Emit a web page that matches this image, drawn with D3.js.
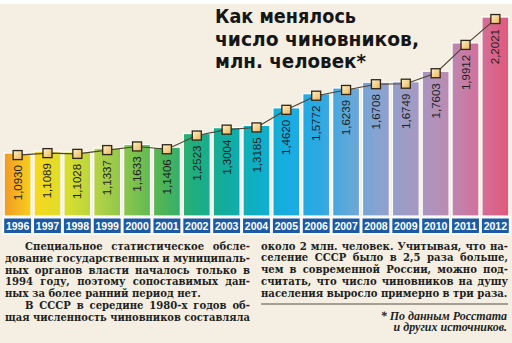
<!DOCTYPE html>
<html><head><meta charset="utf-8">
<script src="https://cdn.jsdelivr.net/npm/d3@7"></script>
<style>body{margin:0;background:#fff}svg{display:block}</style>
</head><body><svg id="c" width="512" height="343"></svg>
<script>
const years = ["1996","1997","1998","1999","2000","2001","2002","2003","2004","2005","2006","2007","2008","2009","2010","2011","2012"];
const values = [1.0930,1.1089,1.1028,1.1337,1.1633,1.1406,1.2523,1.3004,1.3185,1.4620,1.5772,1.6239,1.6708,1.6749,1.7603,1.9912,2.2021];
const barColors = ["#f39a22","#f7d81e","#d8de2e","#b0d246","#82c34e","#4fb456","#1fae7e","#12ac9e","#0eafc4","#18ade2","#2ea8e2","#64a8da","#8da2ce","#a39ac3","#b98cb4","#d0729c","#e15a7c"];
const titleLines = ["Как менялось","число чиновников,","млн. человек*"];
const leftText = [
 {t:"Специальное статистическое обсле-", ind:true, end:250},
 {t:"дование государственных и муниципаль-", end:250},
 {t:"ных органов власти началось только в", end:250},
 {t:"1994 году, поэтому сопоставимых дан-", end:250},
 {t:"ных за более ранний период нет.", end:null},
 {t:"В СССР в середине 1980-х годов об-", ind:true, end:250},
 {t:"щая численность чиновников составляла", end:250}
];
const rightText = [
 {t:"около 2 млн. человек. Учитывая, что на-", end:508},
 {t:"селение СССР было в 2,5 раза больше,", end:508},
 {t:"чем в современной России, можно под-", end:508},
 {t:"считать, что число чиновников на душу", end:508},
 {t:"населения выросло примерно в три раза.", end:null}
];
const footnote = ["* По данным Росстата","и других источников."];

const svg = d3.select("#c");
svg.append("rect").attr("width",512).attr("height",343).attr("fill","#f4efe2");
svg.append("rect").attr("width",512).attr("height",4).attr("fill","#ffffff");

const x = d3.scaleBand().domain(years).range([3,510]).paddingInner(0.1).paddingOuter(0.04);
const y = d3.scaleLinear().domain([0.58,2.2]).range([216,17.3]);
const fmt = v => d3.format(".4f")(v).replace(".",",");

const defs = svg.append("defs");
const g = defs.append("linearGradient").attr("id","hg").attr("gradientUnits","userSpaceOnUse")
  .attr("x1",x(years[0])).attr("x2",x(years[years.length-1])+x.bandwidth()).attr("y1",0).attr("y2",0);
barColors.forEach((c,i)=>g.append("stop").attr("offset",(i/(barColors.length-1))).attr("stop-color",c));
const mg = defs.append("linearGradient").attr("id","mg").attr("x1",0).attr("y1",0).attr("x2",1).attr("y2",1);
mg.append("stop").attr("offset",0).attr("stop-color","#fff3c4");
mg.append("stop").attr("offset",1).attr("stop-color","#e9b45a");

const data = years.map((yr,i)=>({yr, v:values[i]}));

// bars
svg.append("g").selectAll("rect").data(data).join("rect")
  .attr("x",d=>x(d.yr)).attr("y",d=>y(d.v))
  .attr("width",x.bandwidth()).attr("height",d=>216-y(d.v))
  .attr("fill","url(#hg)").attr("stroke","#ffffff").attr("stroke-width",1.2);

// value labels
svg.append("g").selectAll("text").data(data).join("text")
  .attr("transform",d=>`translate(${x(d.yr)+x.bandwidth()/2+4},${y(d.v)+12}) rotate(-90)`)
  .attr("text-anchor","end")
  .attr("font-family","'Liberation Sans Narrow','Arial Narrow','Liberation Sans',Arial,sans-serif")
  .attr("font-size",11.5).attr("fill","#1e1e1e")
  .text(d=>fmt(d.v));

// year band
svg.append("rect").attr("x",2).attr("y",216).attr("width",509).attr("height",19).attr("fill","#fbfaf6");
const yg = svg.append("g");
yg.selectAll("rect").data(years).join("rect")
  .attr("x",d=>x(d)).attr("y",218.5).attr("width",x.bandwidth()).attr("height",14.5)
  .attr("fill","#1d5aa6");
yg.selectAll("text").data(years).join("text")
  .attr("x",d=>x(d)+x.bandwidth()/2).attr("y",229.8).attr("text-anchor","middle")
  .attr("font-family","'Liberation Sans',Arial,sans-serif").attr("font-weight","bold")
  .attr("font-size",10.5).attr("fill","#ffffff").text(d=>d);

// line + markers
const line = d3.line().x(d=>x(d.yr)+x.bandwidth()/2).y(d=>y(d.v)+2);
svg.append("path").datum(data).attr("d",line).attr("fill","none").attr("stroke","#4e4034").attr("stroke-width",1.1);
svg.append("g").selectAll("rect").data(data).join("rect")
  .attr("x",d=>x(d.yr)+x.bandwidth()/2-4.5).attr("y",d=>y(d.v)+2-4.5)
  .attr("width",9).attr("height",9).attr("fill","url(#mg)")
  .attr("stroke","#2e261c").attr("stroke-width",1.3);

// title
const tW = [141,204,151], tY = [22.5,45.5,68];
svg.append("g").selectAll("text").data(titleLines).join("text")
  .attr("x",215).attr("y",(d,i)=>tY[i])
  .attr("font-family","'DejaVu Sans Condensed','DejaVu Sans',sans-serif").attr("font-stretch","condensed")
  .attr("font-weight","bold").attr("font-size",20).attr("fill","#161616")
  .attr("textLength",(d,i)=>tW[i]).attr("lengthAdjust","spacingAndGlyphs")
  .text(d=>d);

// body text
function block(lines, x0, y0, dy){
  const gg = svg.append("g");
  lines.forEach((L,i)=>{
    const xs = x0 + (L.ind?20:0);
    const t = gg.append("text").attr("x",xs).attr("y",y0+i*dy)
      .attr("font-family","'DejaVu Serif Condensed','DejaVu Serif',serif").attr("font-stretch","condensed")
      .attr("font-weight","bold")
      .attr("font-size",11.2).attr("fill","#1f1f1f").text(L.t);
    if (L.end == null) return;
    const w = t.node().getComputedTextLength();
    const n = (L.t.match(/ /g)||[]).length;
    const target = L.end - xs;
    if (w > target) t.attr("textLength",target).attr("lengthAdjust","spacingAndGlyphs");
    else if(n>0) t.attr("word-spacing",(target-w)/n);
  });
}
block(leftText,5,250,11.8);
block(rightText,261,249.5,11.8);

svg.append("line").attr("x1",261).attr("x2",508).attr("y1",304).attr("y2",304)
  .attr("stroke","#8a8478").attr("stroke-width",1.4);
svg.append("g").selectAll("text").data(footnote).join("text")
  .attr("x",507).attr("y",(d,i)=>320+i*11.3).attr("text-anchor","end")
  .attr("font-family","'Liberation Serif','Times New Roman',serif").attr("font-weight","bold")
  .attr("font-style","italic").attr("font-size",12).attr("fill","#1f1f1f").text(d=>d);
</script></body></html>
